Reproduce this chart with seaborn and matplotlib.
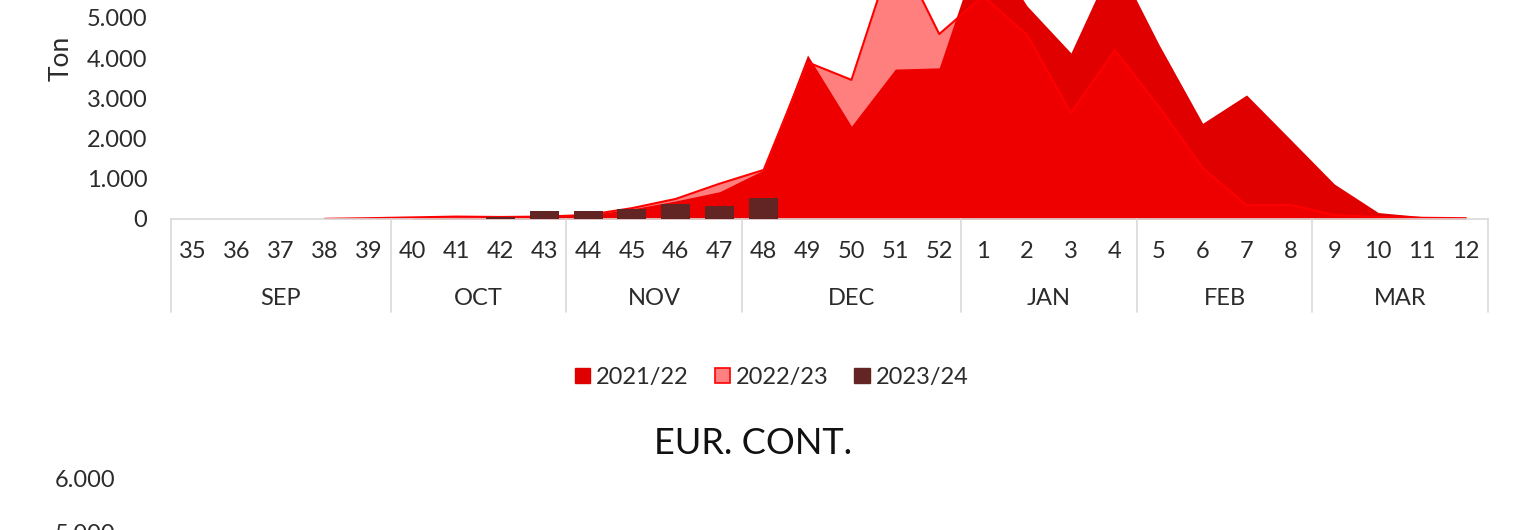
import numpy as np
import pandas as pd
import seaborn as sns
import matplotlib.pyplot as plt
from matplotlib.ticker import FuncFormatter
from matplotlib.patches import Patch

nan = np.nan

# semanas da campanha (eixo categórico) e meses agrupados
semanas = ['35', '36', '37', '38', '39', '40', '41', '42', '43', '44', '45', '46', '47', '48',
           '49', '50', '51', '52', '1', '2', '3', '4', '5', '6', '7', '8', '9', '10', '11', '12']
meses = ['SEP', 'OCT', 'NOV', 'DEC', 'JAN', 'FEB', 'MAR']
semanas_por_mes = [5, 4, 4, 5, 4, 4, 4]

# toneladas por campanha
ton_2122 = [nan, nan, nan, nan, nan, 30, 50, 50, 70, 100, 250, 450, 680, 1220,
            4080, 2310, 3730, 3760, 7000, 5300, 4130, 6500, 4350, 2380, 3085, 1980, 870, 160, 60, 20]
ton_2223 = [nan, nan, nan, 5, 20, 40, 60, 50, 60, 100, 270, 500, 880, 1220,
            3900, 3460, 6800, 4600, 5550, 4580, 2640, 4200, 2800, 1270, 340, 350, 100, 50, 30, 20]
ton_2324 = [nan, nan, nan, nan, nan, nan, nan, 60, 190, 205, 250, 380, 330, 515,
            nan, nan, nan, nan, nan, nan, nan, nan, nan, nan, nan, nan, nan, nan, nan, nan]

campanhas = ['2021/22', '2022/23', '2023/24']
cores = {'2021/22': '#E00000', '2022/23': '#FF0000', '2023/24': '#632523'}

df = pd.DataFrame({'semana': semanas, '2021/22': ton_2122, '2022/23': ton_2223, '2023/24': ton_2324})

sns.set_style('white')
plt.rcParams['font.family'] = ['Lato', 'DejaVu Sans']
texto = '#2b2b2b'
fs = 17

fig = plt.figure(figsize=(15.37, 5.30), dpi=100)
ax = fig.add_axes([171 / 1537, 0.5868, 1317 / 1537, 0.6068])

x = np.arange(len(semanas))
ax.fill_between(x, df['2021/22'], color=cores['2021/22'], lw=0, zorder=1)
ax.fill_between(x, df['2022/23'], color=cores['2022/23'], alpha=0.5, lw=0, zorder=1.5)
sns.lineplot(x=x, y=df['2022/23'], color=cores['2022/23'], lw=1.5, ax=ax, zorder=2)
sns.barplot(data=df, x='semana', y='2023/24', order=semanas, color=cores['2023/24'],
            saturation=1, width=0.66, errorbar=None, linewidth=0, ax=ax)
for p in ax.patches:
    p.set_zorder(3)
    p.set_edgecolor(cores['2023/24'])

ax.set_xlim(-0.5, len(semanas) - 0.5)
ax.set_ylim(0, 8000)
ax.set_yticks(range(0, 5001, 1000))
fmt = FuncFormatter(lambda v, _: f'{int(v):,}'.replace(',', '.'))
ax.yaxis.set_major_formatter(fmt)
ax.set_xticks(x)
ax.set_xticklabels(semanas)
ax.tick_params(axis='both', length=0, labelsize=fs, colors=texto)
ax.tick_params(axis='x', pad=16)
ax.tick_params(axis='y', pad=17)
ax.set_xlabel('')
ax.set_ylabel('Ton', fontsize=19, color=texto, labelpad=7)
ax.yaxis.set_label_coords(-0.074, 0.5)

for s in ['top', 'right', 'left']:
    ax.spines[s].set_visible(False)
ax.spines['bottom'].set_color('#D9D9D9')
ax.spines['bottom'].set_linewidth(1.2)

# nível dos meses no eixo
frac = (312 - 219) / 321.6
limites = np.cumsum([0] + semanas_por_mes) - 0.5
for b in limites:
    ax.plot([b, b], [0, -frac], transform=ax.get_xaxis_transform(), clip_on=False,
            color='#D9D9D9', lw=1.2)
for mes, a, b in zip(meses, limites[:-1], limites[1:]):
    ax.annotate(mes, xy=((a + b) / 2, 0), xycoords=('data', 'axes fraction'),
                xytext=(0, -57.5), textcoords='offset points', ha='center', va='center',
                fontsize=fs, color=texto)

handles = [Patch(facecolor='#E00000', edgecolor='#E00000'),
           Patch(facecolor='#FF8080', edgecolor='#FF0000', lw=1.2),
           Patch(facecolor='#632523', edgecolor='#632523')]
fig.legend(handles, campanhas, loc='center', bbox_to_anchor=(0.502, 0.288), ncol=3,
           frameon=False, handlelength=0.65, handleheight=0.65, handletextpad=0.25,
           columnspacing=1.1, fontsize=fs, labelcolor=texto)

# gráfico seguinte (EUR. CONT.), só o topo fica visível
ax2 = fig.add_axes([139 / 1537, -0.5094, (1488 - 139) / 1537, 0.6057])
ax2.set_ylim(0, 6000)
ax2.set_yticks([5000, 6000])
ax2.yaxis.set_major_formatter(fmt)
ax2.set_xticks([])
ax2.tick_params(axis='y', length=0, labelsize=fs, colors=texto, pad=17)
for s in ax2.spines.values():
    s.set_visible(False)
fig.text(753 / 1537, (530 - 443) / 530, 'EUR. CONT.', ha='center', va='center',
         fontsize=26, color='#111111')

fig.savefig('out.png', dpi=100)
